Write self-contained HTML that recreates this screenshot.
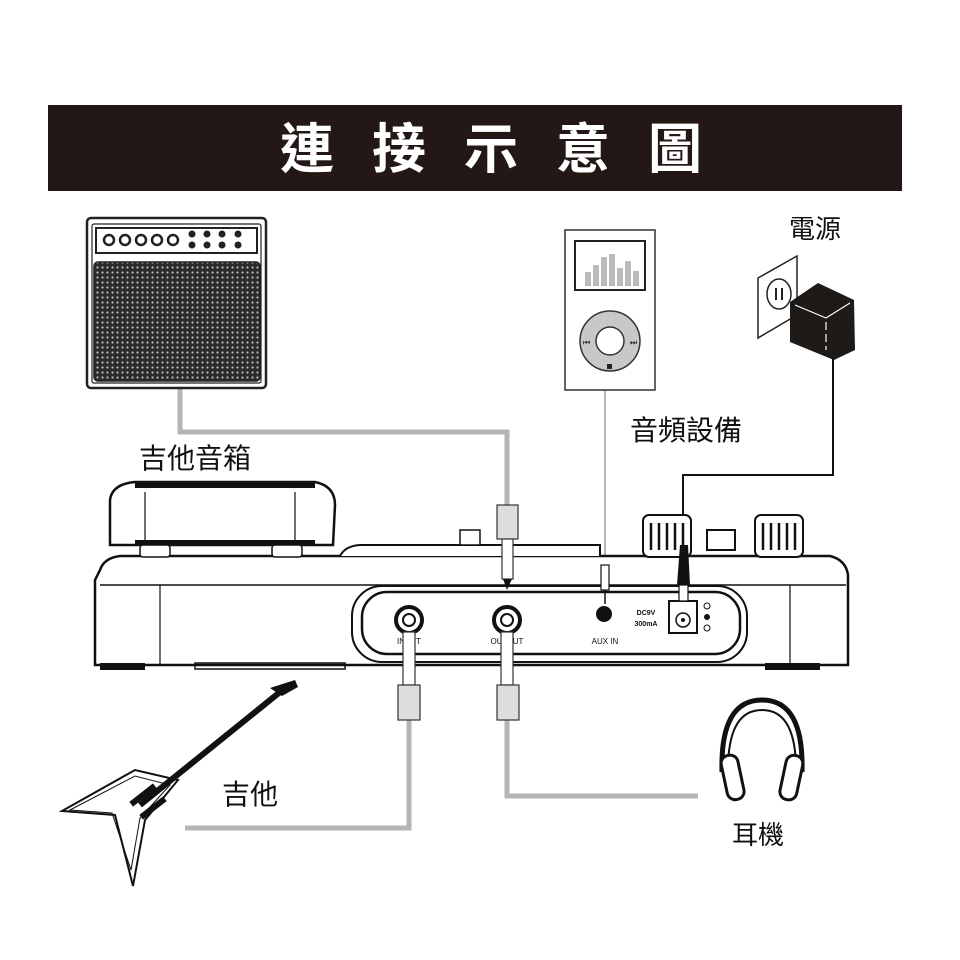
<!DOCTYPE html>
<html><head><meta charset="utf-8"><style>
html,body{margin:0;padding:0;background:#fff;}
svg{display:block;}
text{font-family:"Liberation Sans","Noto Sans CJK TC",sans-serif;}
</style></head><body>
<svg width="960" height="960" viewBox="0 0 960 960" xmlns="http://www.w3.org/2000/svg">
<defs>
<pattern id="dots" width="5" height="5" patternUnits="userSpaceOnUse">
<rect width="5" height="5" fill="#2a2a2a"/><circle cx="2.5" cy="2.5" r="1.1" fill="#bdbdbd"/>
</pattern>
</defs>
<!-- banner -->
<rect x="48" y="105" width="854" height="86" fill="#231815"/>
<text x="280" y="168" font-size="54" font-weight="bold" fill="#fff" letter-spacing="38">連接示意圖</text>

<!-- gray cables -->
<g fill="none" stroke="#b5b5b5" stroke-width="5">
<polyline points="180,388 180,432 507,432 507,505"/>
<polyline points="409,720 409,828 185,828"/>
<polyline points="507,720 507,796 698,796"/>
</g>
<line x1="605" y1="390" x2="605" y2="560" stroke="#b5b5b5" stroke-width="2"/>

<!-- amp -->
<rect x="87" y="218" width="179" height="170" rx="4" fill="#fff" stroke="#222" stroke-width="2.5"/>
<rect x="92" y="224" width="169" height="159" rx="2" fill="none" stroke="#222" stroke-width="1.2"/>
<rect x="96" y="228" width="161" height="25" fill="#fff" stroke="#222" stroke-width="2"/>
<g fill="#fff" stroke="#222" stroke-width="2.5">
<circle cx="109" cy="240" r="5"/><circle cx="125" cy="240" r="5"/><circle cx="141" cy="240" r="5"/><circle cx="157" cy="240" r="5"/><circle cx="173" cy="240" r="5"/>
</g>
<g fill="#222">
<circle cx="192" cy="234" r="3.5"/><circle cx="207" cy="234" r="3.5"/><circle cx="222" cy="234" r="3.5"/><circle cx="238" cy="234" r="3.5"/>
<circle cx="192" cy="245" r="3.5"/><circle cx="207" cy="245" r="3.5"/><circle cx="222" cy="245" r="3.5"/><circle cx="238" cy="245" r="3.5"/>
</g>
<rect x="94" y="262" width="166" height="119" rx="4" fill="url(#dots)" stroke="#222" stroke-width="1.5"/>
<text x="195" y="468" font-size="28" text-anchor="middle" fill="#111">吉他音箱</text>

<!-- mp3 -->
<rect x="565" y="230" width="90" height="160" fill="#fff" stroke="#333" stroke-width="1.5"/>
<rect x="575" y="241" width="70" height="49" fill="#fff" stroke="#222" stroke-width="2"/>
<g fill="#bbb"><rect x="585" y="272" width="6" height="14"/><rect x="593" y="265" width="6" height="21"/><rect x="601" y="257" width="6" height="29"/><rect x="609" y="254" width="6" height="32"/><rect x="617" y="268" width="6" height="18"/><rect x="625" y="261" width="6" height="25"/><rect x="633" y="271" width="6" height="15"/></g>
<circle cx="610" cy="341" r="30" fill="#c8c8c8" stroke="#333" stroke-width="1.5"/>
<circle cx="610" cy="341" r="14" fill="#fff" stroke="#333" stroke-width="1.5"/>
<rect x="607" y="364" width="5" height="5" fill="#222"/>
<text x="583" y="345" font-size="8" fill="#222">⏮</text><text x="630" y="345" font-size="8" fill="#222">⏭</text>
<text x="686" y="440" font-size="28" text-anchor="middle" fill="#111">音頻設備</text>

<!-- power -->
<text x="815" y="238" font-size="26" text-anchor="middle" fill="#111">電源</text>
<polygon points="758,278 797,256 797,315 758,338" fill="#fff" stroke="#222" stroke-width="1.5"/>
<ellipse cx="779" cy="294" rx="12" ry="15" fill="#fff" stroke="#222" stroke-width="1.5"/>
<line x1="776" y1="288" x2="776" y2="300" stroke="#222" stroke-width="2"/><line x1="782" y1="288" x2="782" y2="300" stroke="#222" stroke-width="2"/>
<polygon points="790,302 818,283 854,300 855,350 834,360 790,342" fill="#1e1a17"/>
<polyline points="795,305 826,318 850,303" fill="none" stroke="#fff" stroke-width="1.2"/>
<line x1="826" y1="322" x2="826" y2="350" stroke="#fff" stroke-width="1.2" stroke-dasharray="8,4"/>
<polyline points="833,358 833,475 683,475 683,545" fill="none" stroke="#111" stroke-width="2"/>

<!-- pedal body -->
<path d="M100,570 Q104,558 120,556 L830,556 Q846,560 848,575 L848,665 L95,665 L95,580 Z" fill="#fff" stroke="#111" stroke-width="2.5"/>
<line x1="100" y1="585" x2="846" y2="585" stroke="#111" stroke-width="1.5"/>
<line x1="160" y1="585" x2="160" y2="665" stroke="#111" stroke-width="1.2"/>
<line x1="790" y1="585" x2="790" y2="665" stroke="#111" stroke-width="1.2"/>
<rect x="100" y="663" width="45" height="7" fill="#111"/><rect x="195" y="663" width="150" height="6" fill="none" stroke="#111" stroke-width="1.5"/>
<rect x="765" y="663" width="55" height="7" fill="#111"/>
<!-- expression pedal -->
<path d="M110,545 L110,500 Q112,484 135,482 L315,482 Q335,486 335,505 L333,545 Z" fill="#fff" stroke="#111" stroke-width="2.5"/>
<rect x="135" y="482" width="180" height="6" fill="#111"/>
<rect x="135" y="540" width="180" height="6" fill="#111"/>
<line x1="145" y1="492" x2="145" y2="545" stroke="#111" stroke-width="1.2"/><line x1="295" y1="492" x2="295" y2="545" stroke="#111" stroke-width="1.2"/>
<rect x="140" y="545" width="30" height="12" rx="3" fill="#fff" stroke="#111" stroke-width="1.5"/>
<rect x="272" y="545" width="30" height="12" rx="3" fill="#fff" stroke="#111" stroke-width="1.5"/>
<path d="M340,556 Q345,546 360,545 L600,545 L600,556" fill="#fff" stroke="#111" stroke-width="2"/>
<rect x="460" y="530" width="20" height="15" fill="#fff" stroke="#111" stroke-width="1.5"/>
<!-- knobs -->
<g fill="#fff" stroke="#111" stroke-width="2">
<rect x="643" y="515" width="48" height="42" rx="6"/><rect x="755" y="515" width="48" height="42" rx="6"/>
<rect x="707" y="530" width="28" height="20"/>
</g>
<g stroke="#111" stroke-width="2.5">
<line x1="651" y1="523" x2="651" y2="550"/><line x1="659" y1="523" x2="659" y2="550"/><line x1="667" y1="523" x2="667" y2="550"/><line x1="675" y1="523" x2="675" y2="550"/><line x1="683" y1="523" x2="683" y2="550"/>
<line x1="763" y1="523" x2="763" y2="550"/><line x1="771" y1="523" x2="771" y2="550"/><line x1="779" y1="523" x2="779" y2="550"/><line x1="787" y1="523" x2="787" y2="550"/><line x1="795" y1="523" x2="795" y2="550"/>
</g>
<!-- rear panel -->
<rect x="352" y="586" width="395" height="76" rx="30" fill="#fff" stroke="#111" stroke-width="2"/>
<rect x="362" y="592" width="378" height="62" rx="25" fill="none" stroke="#111" stroke-width="2.5"/>
<circle cx="409" cy="620" r="13" fill="#fff" stroke="#111" stroke-width="4"/><circle cx="409" cy="620" r="6" fill="#fff" stroke="#111" stroke-width="2"/>
<circle cx="507" cy="620" r="13" fill="#fff" stroke="#111" stroke-width="4"/><circle cx="507" cy="620" r="6" fill="#fff" stroke="#111" stroke-width="2"/>
<circle cx="604" cy="614" r="8" fill="#111"/>
<text x="409" y="644" font-size="8" text-anchor="middle" fill="#111">INPUT</text>
<text x="507" y="644" font-size="8" text-anchor="middle" fill="#111">OUTPUT</text>
<text x="605" y="644" font-size="8" text-anchor="middle" fill="#111">AUX IN</text>
<text x="646" y="615" font-size="7" font-weight="bold" text-anchor="middle" fill="#111">DC9V</text>
<text x="646" y="626" font-size="7" font-weight="bold" text-anchor="middle" fill="#111">300mA</text>
<rect x="669" y="601" width="28" height="32" fill="#fff" stroke="#111" stroke-width="2"/>
<circle cx="683" cy="620" r="7" fill="#fff" stroke="#111" stroke-width="1.5"/><circle cx="683" cy="620" r="2" fill="#111"/>
<circle cx="707" cy="606" r="3" fill="none" stroke="#111"/><circle cx="707" cy="617" r="3" fill="#111"/><circle cx="707" cy="628" r="3" fill="none" stroke="#111"/>
<!-- plugs -->
<path d="M680,545 L688,545 L690,585 L677,585 Z" fill="#111"/>
<rect x="679" y="585" width="9" height="16" fill="#fff" stroke="#111" stroke-width="1.2"/>
<rect x="601" y="565" width="8" height="25" fill="#fff" stroke="#111" stroke-width="1.2"/>
<line x1="605" y1="590" x2="605" y2="604" stroke="#111" stroke-width="1.5"/>
<rect x="497" y="505" width="21" height="34" fill="#ddd" stroke="#333" stroke-width="1.2"/>
<rect x="502" y="539" width="11" height="40" fill="#fff" stroke="#333" stroke-width="1.2"/>
<polygon points="503,579 512,579 507,590" fill="#111"/>
<rect x="403" y="632" width="12" height="53" fill="#fff" stroke="#333" stroke-width="1.2"/>
<rect x="398" y="685" width="22" height="35" fill="#ddd" stroke="#333" stroke-width="1.2"/>
<rect x="501" y="632" width="12" height="53" fill="#fff" stroke="#333" stroke-width="1.2"/>
<rect x="497" y="685" width="22" height="35" fill="#ddd" stroke="#333" stroke-width="1.2"/>

<!-- guitar -->
<polygon points="62,811 135,770 178,780 145,820 133,886 115,815" fill="#fff" stroke="#111" stroke-width="2"/>
<polygon points="70,810 135,776 170,785 140,818 131,870 112,813" fill="none" stroke="#111" stroke-width="1"/>
<line x1="140" y1="805" x2="280" y2="692" stroke="#111" stroke-width="6"/>
<polygon points="270,688 295,680 298,687 282,696" fill="#111"/>
<g fill="#111"><rect x="128" y="792" width="30" height="6" transform="rotate(-38 143 795)"/><rect x="138" y="805" width="30" height="6" transform="rotate(-38 153 808)"/></g>
<text x="250" y="804" font-size="28" text-anchor="middle" fill="#111">吉他</text>

<!-- headphones -->
<path d="M722,772 Q720,700 762,700 Q804,700 802,772" fill="none" stroke="#111" stroke-width="5"/>
<path d="M728,770 Q728,710 762,710 Q796,710 796,770" fill="none" stroke="#111" stroke-width="2"/>
<g fill="#fff" stroke="#111" stroke-width="3">
<rect x="724" y="755" width="17" height="45" rx="8" transform="rotate(-12 732 777)"/>
<rect x="783" y="755" width="17" height="45" rx="8" transform="rotate(12 791 777)"/>
</g>
<text x="758" y="844" font-size="26" text-anchor="middle" fill="#111">耳機</text>
</svg>
</body></html>
